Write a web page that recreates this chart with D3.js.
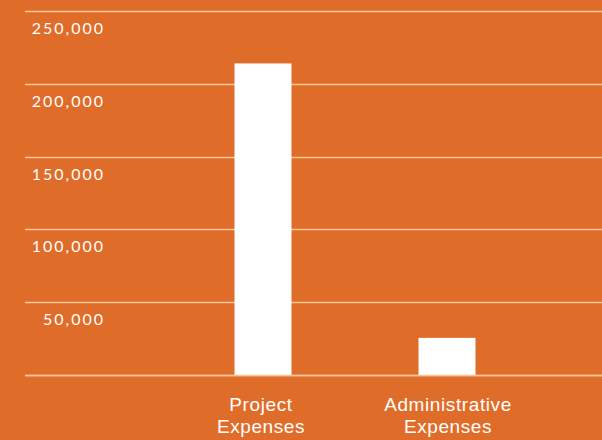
<!DOCTYPE html>
<html>
<head>
<meta charset="utf-8">
<script src="https://cdn.jsdelivr.net/npm/d3@7"></script>
<style>
  body { margin: 0; background: #e06c29; }
  svg { display: block; }
  .grid line { stroke: #f7c596; stroke-width: 1.5; }
  .tick-label { fill: #ffffff; font-family: Lato, "Open Sans", sans-serif; font-size: 16px; letter-spacing: 2px; }
  .cat-label { fill: #ffffff; font-family: "Liberation Sans", Arial, sans-serif; font-size: 19px; letter-spacing: 0.6px; }
</style>
</head>
<body>
<div id="chart"></div>
<script>
var categories = [["Project", "Expenses"], ["Administrative", "Expenses"]];
var values = [214000, 25500];
var tickValues = [50000, 100000, 150000, 200000, 250000];
var gridValues = [0, 50000, 100000, 150000, 200000, 250000];

function init() {
    var width = 602;
    var height = 440;

    var svg = d3.select("#chart")
        .append("svg")
        .attr("width", width)
        .attr("height", height);

    var y = d3.scaleLinear()
        .domain([0, 250000])
        .range([375, 11]);

    var x = d3.scalePoint()
        .domain(d3.range(categories.length))
        .range([263, 447]);

    var barWidth = 57;
    var fmt = d3.format(",");

    // grid lines behind the bars
    svg.append("g")
        .attr("class", "grid")
        .selectAll("line")
        .data(gridValues)
        .enter()
        .append("line")
        .attr("x1", 25)
        .attr("x2", width)
        .attr("y1", function (d) { return Math.round(y(d)) + 0.5; })
        .attr("y2", function (d) { return Math.round(y(d)) + 0.5; });

    // tick labels sit below each line
    svg.selectAll(".tick-label")
        .data(tickValues)
        .enter()
        .append("text")
        .attr("class", "tick-label")
        .attr("x", 105)
        .attr("y", function (d) { return y(d) + 23; })
        .attr("text-anchor", "end")
        .text(function (d) { return fmt(d); });

    svg.selectAll(".bar")
        .data(values)
        .enter()
        .append("rect")
        .attr("class", "bar")
        .attr("x", function (d, i) { return x(i) - barWidth / 2; })
        .attr("y", function (d) { return y(d); })
        .attr("width", barWidth)
        .attr("height", function (d) { return y(0) - y(d); })
        .attr("fill", "#ffffff");

    // baseline drawn again over the bars
    svg.append("line")
        .attr("x1", 25)
        .attr("x2", width)
        .attr("y1", Math.round(y(0)) + 0.5)
        .attr("y2", Math.round(y(0)) + 0.5)
        .attr("stroke", "#f7c596")
        .attr("stroke-width", 1.5);

    // two-line category labels, drawn as separate texts
    categories.forEach(function (lines, i) {
        svg.selectAll(".cat-label-" + i)
            .data(lines)
            .enter()
            .append("text")
            .attr("class", "cat-label cat-label-" + i)
            .attr("text-anchor", "middle")
            .attr("x", x(i) - (i === 0 ? 2 : -1))
            .attr("y", function (d, j) { return 411 + j * 22; })
            .text(function (d) { return d; });
    });
}

window.onload = init;
</script>
</body>
</html>
